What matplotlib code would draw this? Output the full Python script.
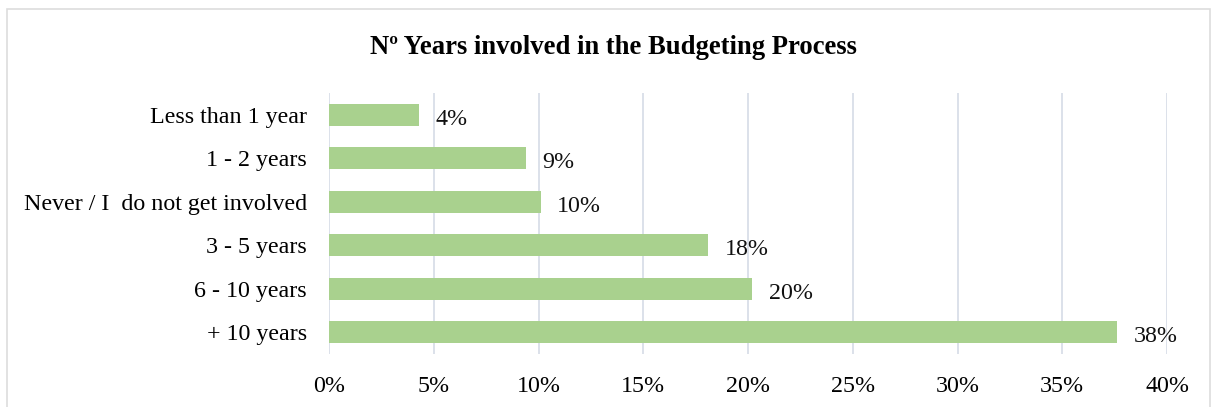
import matplotlib.pyplot as plt
from matplotlib.patches import Rectangle
from matplotlib.ticker import FuncFormatter

categories = ["+ 10 years", "6 - 10 years", "3 - 5 years",
              "Never / I  do not get involved", "1 - 2 years", "Less than 1 year"]
shares = [37.6, 20.2, 18.1, 10.1, 9.4, 4.3]
xticks = [0, 5, 10, 15, 20, 25, 30, 35, 40]

plt.rcParams['font.family'] = ['Liberation Serif', 'DejaVu Serif']

fig = plt.figure(figsize=(12.13, 4.07), dpi=100)
ax = fig.add_axes([329/1213, 1 - 354/407, (1167 - 329)/1213, (354 - 93)/407])

ypos = range(len(categories))
ax.barh(ypos, shares, height=0.5, color='#A9D18E')
for y, v in zip(ypos, shares):
    ax.text(v + 0.8, y - 0.1, f"{v:.0f}%", va='center', ha='left', fontsize=17.3, color='#111111')

ax.set_xlim(0, 40)
ax.set_ylim(-0.5, len(categories) - 0.5)
ax.set_yticks(list(ypos))
ax.set_yticklabels(categories, fontsize=17.3)
ax.set_xticks(xticks)
ax.xaxis.set_major_formatter(FuncFormatter(lambda v, p: f"{v:.0f}%"))
ax.tick_params(axis='x', labelsize=17.3, length=0, pad=15.5)
ax.tick_params(axis='y', length=0, pad=15.8)
ax.grid(axis='x', color='#D9DEE8', linewidth=1.3)
ax.set_axisbelow(True)
for s in ax.spines.values():
    s.set_visible(False)

fig.text(613/1213, 1 - 48/407, "Nº Years involved in the Budgeting Process",
         ha='center', va='center', fontsize=19.2, fontweight='bold')

# light outline round the chart area
fig.patches.append(Rectangle((7/1213, -0.05), 1203/1213, 1 - 9/407 + 0.05,
                             transform=fig.transFigure, fill=False,
                             edgecolor='#DDDDDD', linewidth=1.2))

fig.savefig('out.png', dpi=100)
